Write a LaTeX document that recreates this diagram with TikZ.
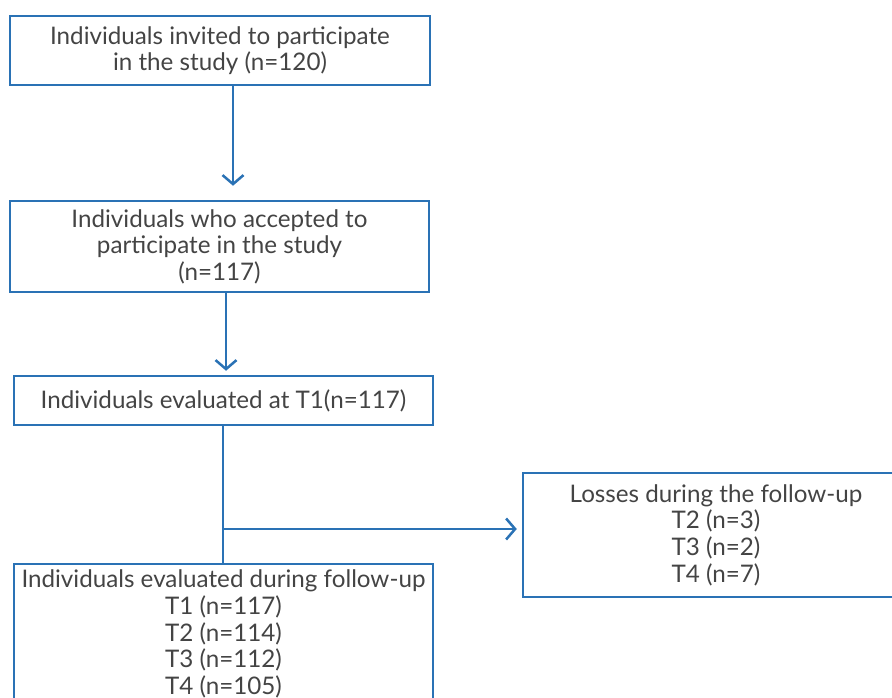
\documentclass[tikz,border=0pt]{standalone}
\usepackage{fontspec}
\setmainfont{Lato}
\usetikzlibrary{arrows.meta}
\definecolor{lineblue}{HTML}{2A72B5}
\definecolor{txt}{HTML}{444444}
\begin{document}
\begin{tikzpicture}[x=1pt,y=-1pt,
  box/.style={draw=lineblue, line width=2.5pt, align=center, text=txt, font=\fontsize{24.2}{26.6}\selectfont, inner sep=0pt},
  arr/.style={draw=lineblue, line width=2.5pt, -{Straight Barb[length=9pt,width=21pt,line width=2.5pt]}},
  conn/.style={draw=lineblue, line width=2.5pt}]
\useasboundingbox (0,0) rectangle (892,698);
\node[box, minimum width=420pt, minimum height=69pt] (b1) at (220,50.5)
  {Individuals invited to participate\\in the study (n=120)};
\node[box, minimum width=419pt, minimum height=91pt] (b2) at (219.5,246.5)
  {Individuals who accepted to\\participate in the study\\(n=117)};
\node[box, minimum width=419pt, minimum height=49pt] (b3) at (223.5,400.5)
  {Individuals evaluated at T1(n=117)};
\node[box, minimum width=419pt, minimum height=140pt] (b4) at (223.5,634)
  {Individuals evaluated during follow-up\\T1 (n=117)\\T2 (n=114)\\T3 (n=112)\\T4 (n=105)};
\node[box, minimum width=386pt, minimum height=124pt] (b5) at (716,535)
  {Losses during the follow-up\\T2 (n=3)\\T3 (n=2)\\T4 (n=7)};
\draw[arr, shorten >=14pt] ([xshift=13pt]b1.south) -- ([xshift=13pt]b1.south |- b2.north);
\draw[arr, shorten >=4pt] ([xshift=6.5pt]b2.south) -- ([xshift=6.5pt]b2.south |- b3.north);
\draw[conn] (b3.south -| 223,0) -- (b4.north -| 223,0);
\coordinate (br) at (223,529);
\draw[arr, shorten >=5pt] (br) -- (br -| b5.west);
\end{tikzpicture}
\end{document}
